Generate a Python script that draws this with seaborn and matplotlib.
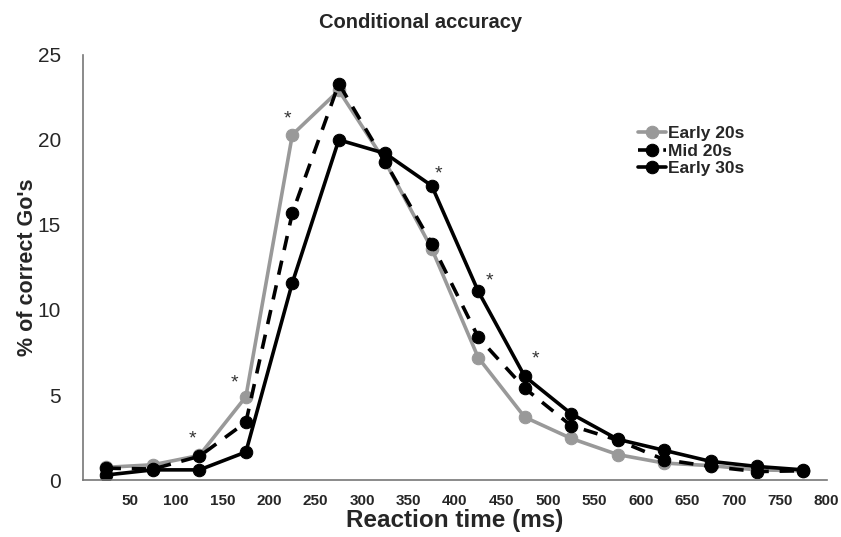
import numpy as np
import pandas as pd
import matplotlib
matplotlib.use('Agg')
import matplotlib.pyplot as plt
import seaborn as sns

# reaction time bins (ms)
rt = [25, 75, 125, 175, 225, 275, 325, 375, 425, 475, 525, 575, 625, 675, 725, 775]

early20 = [0.75, 0.9, 1.45, 4.9, 20.3, 22.9, 18.7, 13.6, 7.2, 3.7, 2.45, 1.5, 1.0, 0.85, 0.6, 0.55]
mid20 = [0.7, 0.65, 1.4, 3.4, 15.7, 23.3, 18.7, 13.9, 8.4, 5.4, 3.2, 2.35, 1.2, 0.8, 0.5, 0.55]
early30 = [0.3, 0.6, 0.6, 1.65, 11.6, 20.0, 19.2, 17.3, 11.1, 6.1, 3.9, 2.4, 1.75, 1.1, 0.8, 0.6]

# significance markers
star_x = [118, 163, 220, 382, 437, 487]
star_y = [2.4, 5.7, 21.2, 18.0, 11.7, 7.1]

sns.set_style('white')
plt.rcParams['font.family'] = ['Liberation Sans', 'DejaVu Sans']

fig = plt.figure(figsize=(8.41, 5.37), dpi=100)
ax = fig.add_axes([0.099, 0.106, 0.884, 0.792])

gray = '#999999'
series = [('Early 20s', early20, gray, '-'),
          ('Mid 20s', mid20, 'black', (0, (4, 3))),
          ('Early 30s', early30, 'black', '-')]

for name, vals, col, ls in series:
    df = pd.DataFrame({'rt': rt, 'pct': vals})
    sns.lineplot(data=df, x='rt', y='pct', ax=ax, color=col, linestyle=ls,
                 linewidth=2.6, marker='o', markersize=9, markeredgecolor=col,
                 label=name)

for x, y in zip(star_x, star_y):
    ax.text(x, y, '*', ha='center', va='center', fontsize=14, color='#333333')

ax.set_xlim(0, 800)
ax.set_ylim(0, 25)
ax.set_xticks(np.arange(50, 801, 50))
ax.set_yticks(np.arange(0, 26, 5))

for s in ['top', 'right']:
    ax.spines[s].set_visible(False)
for s in ['left', 'bottom']:
    ax.spines[s].set_color('#777777')
    ax.spines[s].set_linewidth(1.2)

ax.tick_params(axis='both', direction='in', length=5, color='#777777', width=1.2)
ax.tick_params(axis='x', labelsize=11, pad=10)
ax.tick_params(axis='y', labelsize=15, pad=16)
for lab in ax.get_xticklabels():
    lab.set_fontweight('bold')

ax.set_xlabel('Reaction time (ms)', fontsize=17.5, fontweight='bold', labelpad=1)
ax.set_ylabel("% of correct Go's", fontsize=15.5, fontweight='bold', labelpad=0)
fig.suptitle('Conditional accuracy', fontsize=14.5, fontweight='bold', x=0.5, y=0.975)

leg = ax.legend(loc='upper left', bbox_to_anchor=(0.725, 0.87), frameon=False,
                handlelength=1.6, handletextpad=0.15, labelspacing=0.15,
                prop={'weight': 'bold', 'size': 12.5})

fig.savefig('out.png', dpi=100)
